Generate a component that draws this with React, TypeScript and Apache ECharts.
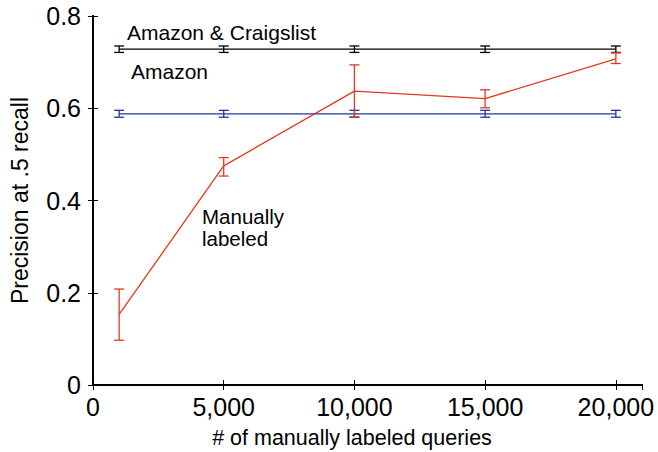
import React, { useEffect, useRef } from "react";
import * as echarts from "echarts";

const xValues = [1000, 5000, 10000, 15000, 20000];
const amazonCraigslist = [0.728, 0.728, 0.728, 0.728, 0.728];
const amazonCraigslistErr = [0.007, 0.007, 0.007, 0.007, 0.007];
const amazon = [0.588, 0.588, 0.588, 0.588, 0.588];
const amazonErr = [0.0075, 0.0075, 0.0075, 0.0075, 0.0075];
const manual = [0.153, 0.475, 0.637, 0.621, 0.707];
const manualLow = [0.097, 0.453, 0.581, 0.601, 0.697];
const manualHigh = [0.208, 0.493, 0.694, 0.640, 0.72];

const BLACK = "#000000";
const BLUE = "#22389a";
const RED = "#e3381e";
const FONT = "Liberation Sans, Arial, sans-serif";

function errorSeries(lows: number[], highs: number[], color: string) {
  const data = xValues.map((x, i) => [x, lows[i], highs[i]]);
  return {
    type: "custom",
    xAxisIndex: 0,
    yAxisIndex: 0,
    data,
    silent: true,
    z: 3,
    renderItem: (params: any, api: any) => {
      const x = api.value(0);
      const lo = api.coord([x, api.value(1)]);
      const hi = api.coord([x, api.value(2)]);
      const hw = 5;
      const style = { stroke: color, lineWidth: 1.3, fill: "none" };
      return {
        type: "group",
        children: [
          { type: "line", shape: { x1: lo[0], y1: lo[1], x2: hi[0], y2: hi[1] }, style },
          { type: "line", shape: { x1: lo[0] - hw, y1: lo[1], x2: lo[0] + hw, y2: lo[1] }, style },
          { type: "line", shape: { x1: hi[0] - hw, y1: hi[1], x2: hi[0] + hw, y2: hi[1] }, style },
        ],
      };
    },
  };
}

function lineSeries(vals: number[], color: string) {
  return {
    type: "line",
    xAxisIndex: 0,
    yAxisIndex: 0,
    data: xValues.map((x, i) => [x, vals[i]]),
    symbol: "none",
    lineStyle: { color, width: 1.3 },
    z: 2,
  };
}

export default function App() {
  const ref = useRef<HTMLDivElement>(null);
  useEffect(() => {
    if (!ref.current) return;
    const chart = echarts.init(ref.current, undefined, { renderer: "svg" });
    const axisLine = { show: true, lineStyle: { color: "#000", width: 2 } };
    const tick = { show: true, inside: true, length: 5, lineStyle: { color: "#000", width: 1 } };
    chart.setOption({
      animation: false,
      backgroundColor: "#fff",
      grid: { left: 90, right: 16, top: 16, bottom: 67 },
      xAxis: [
        {
          type: "value",
          min: 0,
          max: 21000,
          interval: 5000,
          position: "bottom",
          axisLine,
          axisTick: tick,
          splitLine: { show: false },
          axisLabel: {
            color: "#000",
            fontSize: 25,
            fontFamily: FONT,
            margin: 9,
            formatter: (v: number) => (v === 0 ? "0" : v.toLocaleString("en-US")),
            showMaxLabel: false,
          },
        },
        {
          type: "value",
          min: 0,
          max: 21000,
          interval: 5000,
          position: "top",
          axisLine,
          axisTick: tick,
          splitLine: { show: false },
          axisLabel: { show: false },
        },
      ],
      yAxis: [
        {
          type: "value",
          min: 0,
          max: 0.8,
          interval: 0.2,
          position: "left",
          axisLine,
          axisTick: tick,
          splitLine: { show: false },
          name: "Precision at .5 recall",
          nameLocation: "middle",
          nameGap: 62,
          nameTextStyle: { color: "#000", fontSize: 23, fontFamily: FONT },
          axisLabel: {
            color: "#000",
            fontSize: 25,
            fontFamily: FONT,
            margin: 12,
            formatter: (v: number) => (v === 0 ? "0" : v.toFixed(1)),
          },
        },
        {
          type: "value",
          min: 0,
          max: 0.8,
          interval: 0.2,
          position: "right",
          axisLine,
          axisTick: tick,
          splitLine: { show: false },
          axisLabel: { show: false },
        },
      ],
      series: [
        lineSeries(amazonCraigslist, BLACK),
        errorSeries(
          amazonCraigslist.map((v, i) => v - amazonCraigslistErr[i]),
          amazonCraigslist.map((v, i) => v + amazonCraigslistErr[i]),
          BLACK
        ),
        lineSeries(amazon, BLUE),
        errorSeries(
          amazon.map((v, i) => v - amazonErr[i]),
          amazon.map((v, i) => v + amazonErr[i]),
          BLUE
        ),
        lineSeries(manual, RED),
        errorSeries(manualLow, manualHigh, RED),
      ],
      graphic: [
        {
          type: "text",
          x: 127,
          y: 32,
          style: { text: "Amazon & Craigslist", fill: "#000", fontSize: 21, fontFamily: FONT, textVerticalAlign: "middle" },
        },
        {
          type: "text",
          x: 131,
          y: 71,
          style: { text: "Amazon", fill: "#000", fontSize: 21, fontFamily: FONT, textVerticalAlign: "middle" },
        },
        {
          type: "text",
          x: 202,
          y: 216,
          style: { text: "Manually", fill: "#000", fontSize: 20.5, fontFamily: FONT, textVerticalAlign: "middle" },
        },
        {
          type: "text",
          x: 202,
          y: 238,
          style: { text: "labeled", fill: "#000", fontSize: 20.5, fontFamily: FONT, textVerticalAlign: "middle" },
        },
        {
          type: "text",
          x: 352,
          y: 438,
          style: {
            text: "# of manually labeled queries",
            fill: "#000",
            fontSize: 21.5,
            fontFamily: FONT,
            textAlign: "center",
            textVerticalAlign: "middle",
          },
        },
      ],
    });
    return () => chart.dispose();
  }, []);
  return (
    <div
      ref={ref}
      style={{ position: "absolute", left: 0, top: 0, width: 658, height: 452 }}
    />
  );
}
